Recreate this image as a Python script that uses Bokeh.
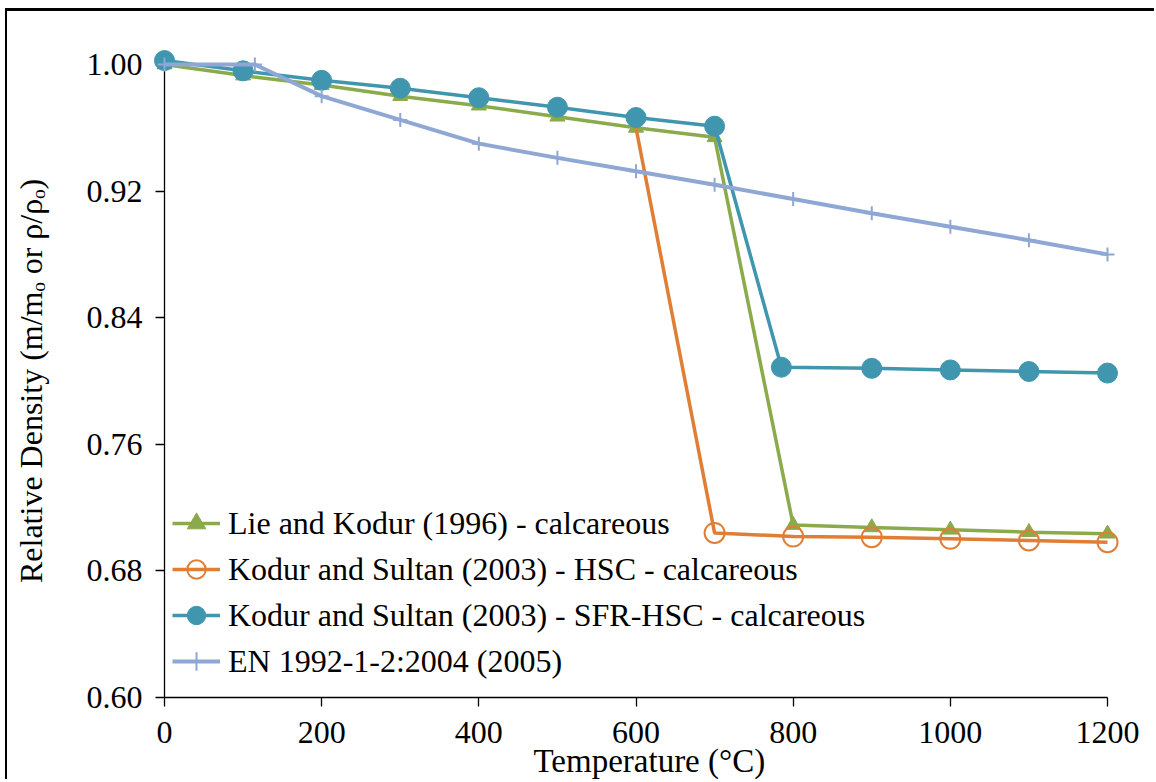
from bokeh.plotting import figure
from bokeh.models import (Range1d, FixedTicker, Legend, LegendItem, ColumnDataSource,
                          NumeralTickFormatter)
from bokeh.core.properties import value
from bokeh.embed import file_html
from bokeh.resources import INLINE

# ---- data ----
lie_temp = [0, 100, 200, 300, 400, 500, 600, 700, 800, 900, 1000, 1100, 1200]
lie_val = [1.000, 0.993, 0.987, 0.980, 0.974, 0.967, 0.960, 0.954, 0.709, 0.7075, 0.706, 0.7045, 0.7035]

hsc_temp = [600, 700, 800, 900, 1000, 1100, 1200]
hsc_val = [0.960, 0.704, 0.7017, 0.7013, 0.7003, 0.6992, 0.6981]

sfr_temp = [0, 100, 200, 300, 400, 500, 600, 700, 785, 900, 1000, 1100, 1200]
sfr_val = [1.0025, 0.996, 0.990, 0.985, 0.979, 0.973, 0.9665, 0.961, 0.8087, 0.808, 0.807, 0.806, 0.805]

en_temp = [0, 115, 200, 300, 400, 500, 600, 700, 800, 900, 1000, 1100, 1200]
en_val = [1.000, 1.000, 0.980, 0.965, 0.950, 0.941, 0.9325, 0.924, 0.915, 0.906, 0.8975, 0.889, 0.880]

series_names = [
    "Lie and Kodur (1996) - calcareous",
    "Kodur and Sultan (2003) - HSC - calcareous",
    "Kodur and Sultan (2003) - SFR-HSC - calcareous",
    "EN 1992-1-2:2004 (2005)",
]
x_title = "Temperature (°C)"
y_title = "Relative Density (m/mₒ or ρ/ρₒ)"
x_ticks = [0, 200, 400, 600, 800, 1000, 1200]
y_ticks = [0.60, 0.68, 0.76, 0.84, 0.92, 1.00]

GREEN = "#8AAA4B"
ORANGE = "#E07E36"
TEAL = "#3F96AE"
LBLUE = "#8FA7D4"
FONT = "'Liberation Serif', 'Times New Roman', serif"

p = figure(width=1149, height=771, x_range=Range1d(0, 1200), y_range=Range1d(0.6, 1.0),
           output_backend="svg", toolbar_location=None,
           min_border_left=157, min_border_right=49, min_border_top=53, min_border_bottom=85)
p.styles = {"margin-left": "5px", "margin-top": "8px",
            "border-left": "2px solid black", "border-top": "3px solid black"}
p.background_fill_color = "white"
p.border_fill_color = "white"
p.outline_line_color = None
p.xgrid.visible = False
p.ygrid.visible = False

for ax in (p.xaxis[0], p.yaxis[0]):
    ax.axis_line_color = "black"
    ax.axis_line_width = 1.3
    ax.major_tick_line_color = "black"
    ax.major_tick_line_width = 1.3
    ax.major_tick_out = 9
    ax.major_tick_in = 0
    ax.minor_tick_line_color = None
    ax.major_label_text_font = FONT
    ax.major_label_text_font_size = "32px"
    ax.major_label_text_color = "black"
    ax.axis_label_text_font = FONT
    ax.axis_label_text_font_size = "32px"
    ax.axis_label_text_font_style = "normal"
    ax.axis_label_text_color = "black"

p.xaxis.ticker = FixedTicker(ticks=x_ticks)
p.yaxis.ticker = FixedTicker(ticks=y_ticks)
p.yaxis.formatter = NumeralTickFormatter(format="0.00")
p.xaxis.formatter = NumeralTickFormatter(format="0")
p.yaxis.axis_label = y_title
p.xaxis.major_label_standoff = 15
p.yaxis.major_label_standoff = 13
p.yaxis.axis_label_standoff = 35

# x-axis title as an unclipped text glyph just below the tick labels
p.text(x=[617], y=[0.6 - 63 / 1582.5], text=[x_title], text_align="center",
       text_baseline="alphabetic", text_font=value(FONT), text_font_size="33px",
       text_color="black", level="overlay")

# ---- series ----
g_src = ColumnDataSource(dict(x=lie_temp, y=lie_val))
g_line = p.line("x", "y", source=g_src, line_color=GREEN, line_width=3.5, level="overlay")
g_sc = p.scatter("x", "y", source=g_src, marker="triangle", size=15, fill_color=GREEN,
                 line_color=GREEN, level="overlay")

o_line = p.line(hsc_temp, hsc_val, line_color=ORANGE, line_width=3.5, level="overlay")
o_sc = p.scatter(hsc_temp[1:], hsc_val[1:], marker="circle", size=20, fill_color=None,
                 line_color=ORANGE, line_width=2, level="overlay")

t_src = ColumnDataSource(dict(x=sfr_temp, y=sfr_val))
t_line = p.line("x", "y", source=t_src, line_color=TEAL, line_width=3.5, level="overlay")
t_sc = p.scatter("x", "y", source=t_src, marker="circle", size=20, fill_color=TEAL,
                 line_color=TEAL, level="overlay")

e_src = ColumnDataSource(dict(x=en_temp, y=en_val))
e_line = p.line("x", "y", source=e_src, line_color=LBLUE, line_width=4, level="overlay")
e_sc = p.scatter("x", "y", source=e_src, marker="cross", size=14, line_color=LBLUE,
                 line_width=2, level="overlay")

legend = Legend(items=[
    LegendItem(label=series_names[0], renderers=[g_line, g_sc]),
    LegendItem(label=series_names[1], renderers=[o_line, o_sc]),
    LegendItem(label=series_names[2], renderers=[t_line, t_sc]),
    LegendItem(label=series_names[3], renderers=[e_line, e_sc]),
], location=(8, 13))
legend.border_line_color = None
legend.background_fill_alpha = 0
legend.padding = 0
legend.margin = 0
legend.spacing = 0
legend.glyph_width = 48
legend.glyph_height = 46
legend.label_height = 46
legend.label_standoff = 8
legend.label_text_font = FONT
legend.label_text_font_size = "32px"
legend.label_text_color = "black"
p.add_layout(legend, "center")

open("out.html", "w").write(file_html(p, INLINE))
